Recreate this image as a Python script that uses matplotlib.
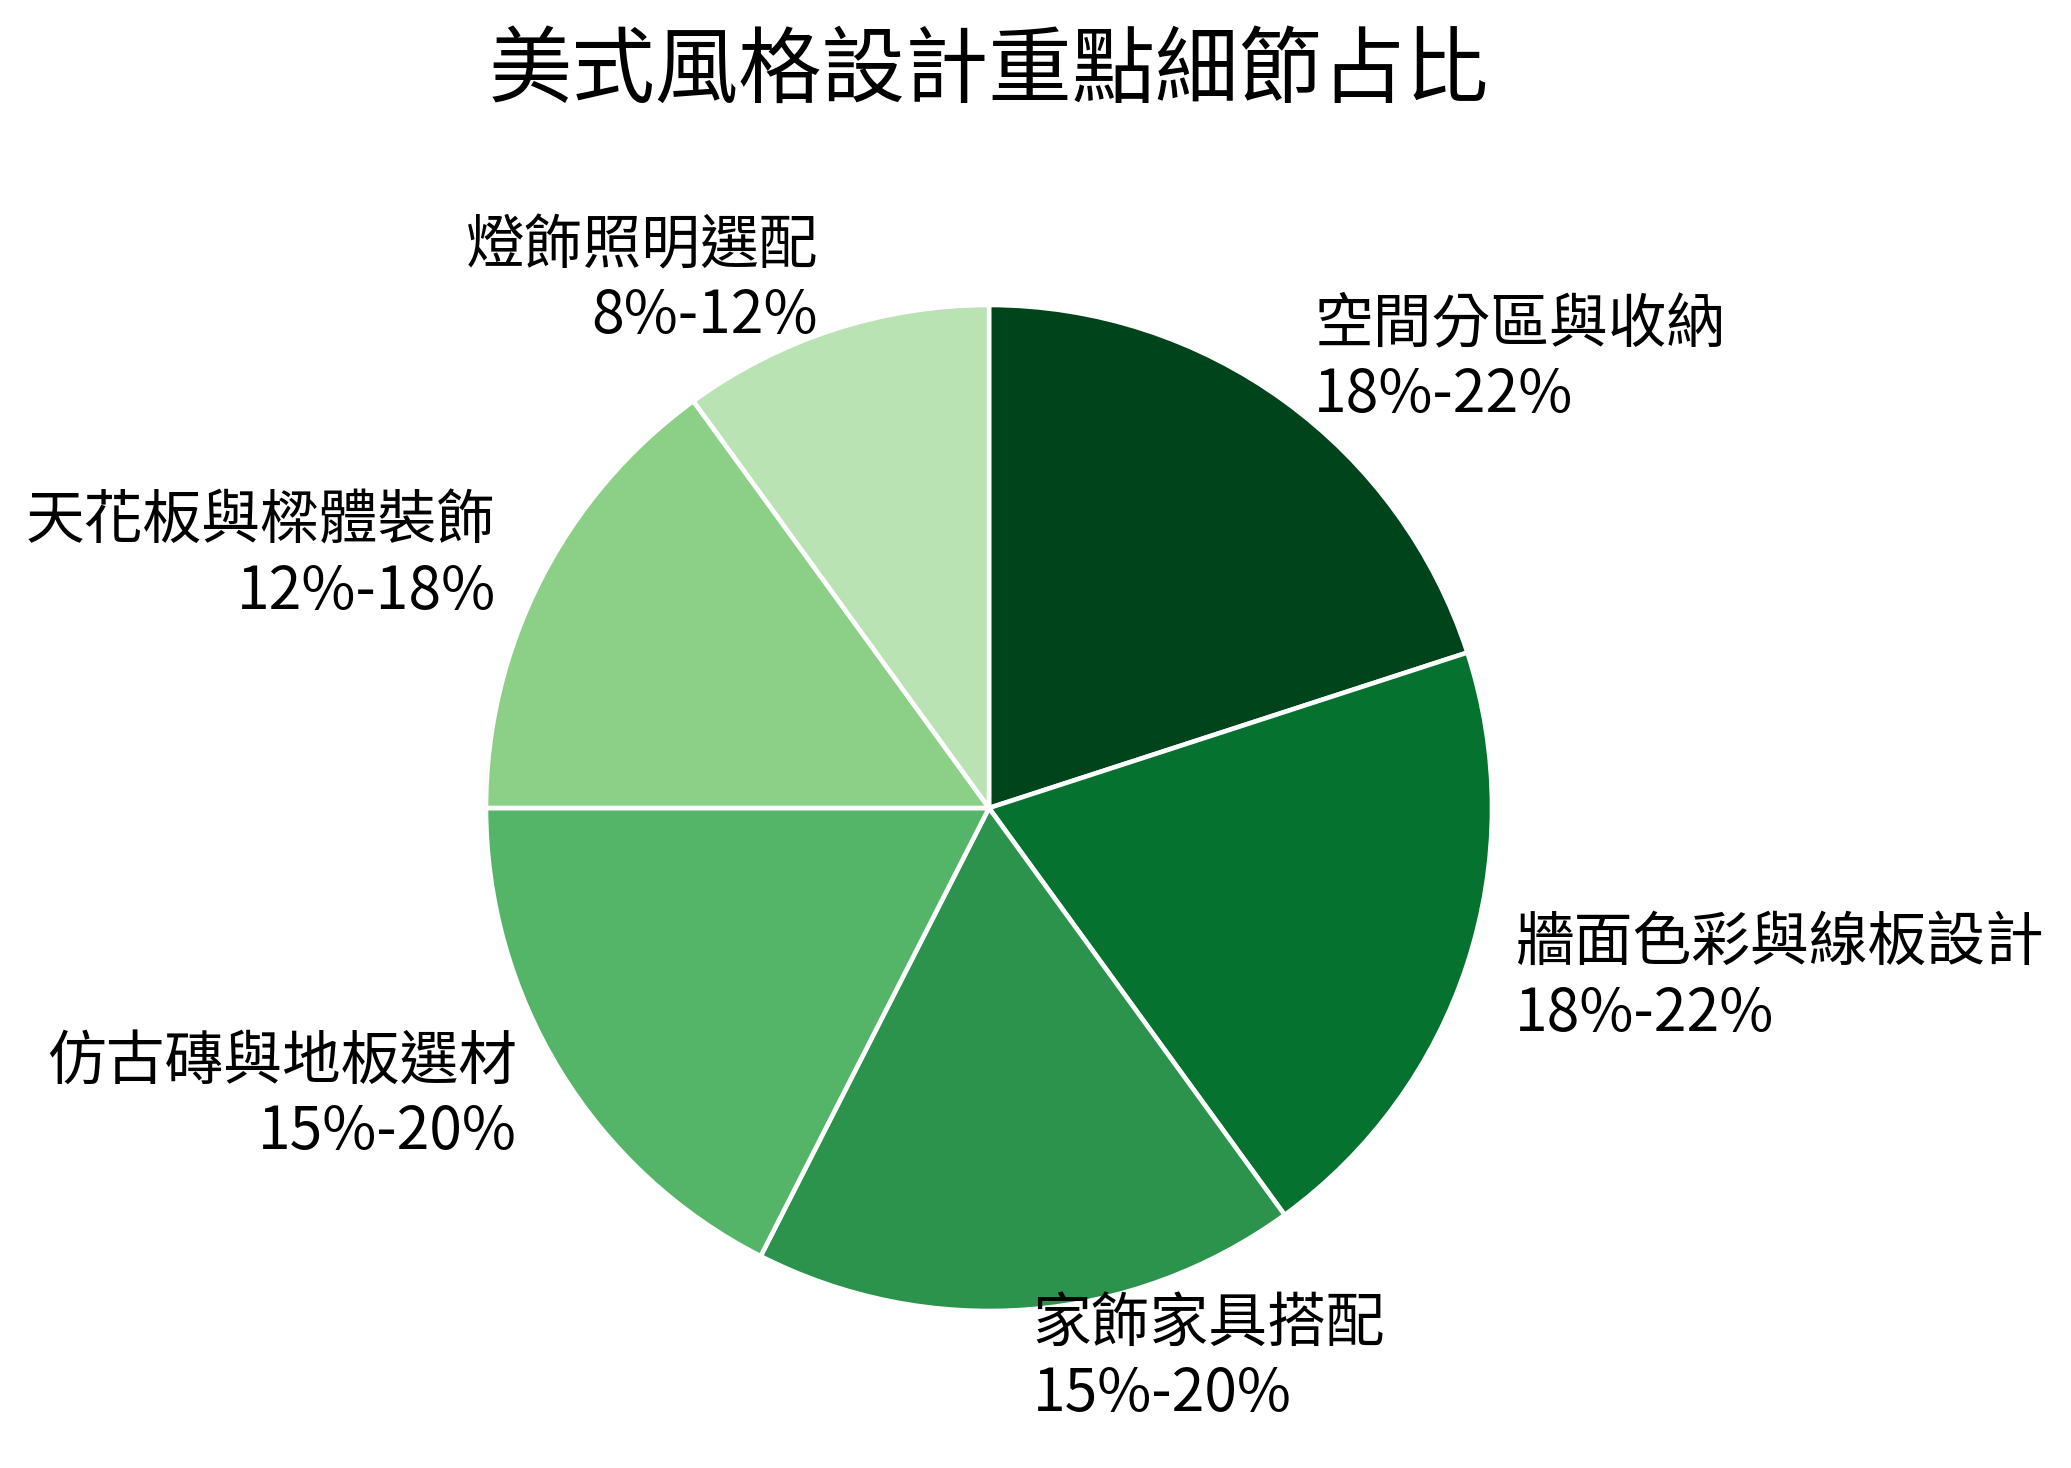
import matplotlib
matplotlib.use("Agg")
import matplotlib.pyplot as plt

plt.rcParams['font.family'] = ['Noto Sans CJK TC', 'DejaVu Sans']

title = "美式風格設計重點細節占比"
categories = ["空間分區與收納", "牆面色彩與線板設計", "家飾家具搭配",
              "仿古磚與地板選材", "天花板與樑體裝飾", "燈飾照明選配"]
ranges = ["18%-22%", "18%-22%", "15%-20%", "15%-20%", "12%-18%", "8%-12%"]
values = [20, 20, 17.5, 17.5, 15, 10]
colors = ["#00441b", "#067230", "#2c934c", "#54b467", "#8ccf87", "#b9e3b2"]

W, H = 2071, 1468
fig = plt.figure(figsize=(W / 100, H / 100), dpi=100)
cx, cy, r = 989, 808, 503
side = 2.5 * r
ax = fig.add_axes([(cx - side / 2) / W, (H - cy - side / 2) / H, side / W, side / H])

labels = [f"{c}\n{rg}" for c, rg in zip(categories, ranges)]
wedges, texts = ax.pie(values, labels=labels, colors=colors, startangle=90,
                       counterclock=False, labeldistance=1.1,
                       wedgeprops=dict(edgecolor="white", linewidth=3.3),
                       textprops=dict(fontsize=42.3, color="black"))
ax.set_aspect("equal")

fig.text(cx / W, 1 - 72 / H, title, ha="center", va="center", fontsize=60, color="black")

fig.savefig("out.png", dpi=100, facecolor="white")
